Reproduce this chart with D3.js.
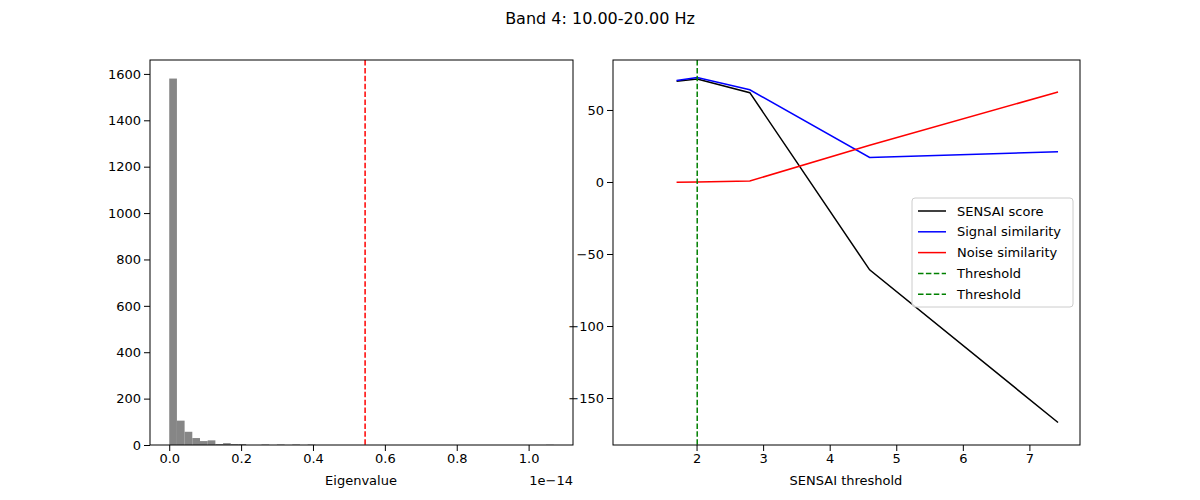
<!DOCTYPE html>
<html>
<head>
<meta charset="utf-8">
<script src="https://cdn.jsdelivr.net/npm/d3@7"></script>
<style>
  body { margin: 0; background: #fff; }
  text { font-family: "DejaVu Sans", sans-serif; }
</style>
</head>
<body>
<svg id="chart" width="1200" height="500"></svg>
<script>
// histogram: 50 bins over eigenvalue range (units of 1e-14)
const binStart = 0, binEnd = 1.07, nBins = 50;
const binCounts = [1580, 105, 57, 30, 17, 20, 4, 8, 4, 4, 0, 0, 2, 0, 2, 0, 2, 0, 2, 0,
  0, 0, 0, 0, 0, 0, 0, 0, 0, 0, 0, 0, 0, 0, 0, 0, 0, 0, 0, 0,
  0, 0, 0, 0, 0, 0, 0, 0, 0, 1];
const eigenThreshold = 0.545;
const histYTicks = [0, 200, 400, 600, 800, 1000, 1200, 1400, 1600];
const histXTicks = [0, 0.2, 0.4, 0.6, 0.8, 1.0];

// line plot
const thresholds = [1.70, 2.01, 2.80, 4.6, 7.43];
const sensaiScore = [70, 71.5, 62, -61, -167];
const signalSim = [70.5, 72.5, 64, 17, 21];
const noiseSim = [-0.2, 0, 0.7, 25.5, 62.5];
const chosenThreshold = 2.01;
const lineYTicks = [50, 0, -50, -100, -150];
const lineXTicks = [2, 3, 4, 5, 6, 7];

const svg = d3.select("#chart");

svg.append("text").attr("x", 600).attr("y", 24).attr("text-anchor", "middle")
  .style("font-size", "16px").text("Band 4: 10.00-20.00 Hz");

const plotTop = 60, plotBottom = 445;

// ---- left histogram
const x1 = d3.scaleLinear().domain([-0.0535, 1.1235]).range([150, 573]);
const y1 = d3.scaleLinear().domain([0, 1660]).range([plotBottom, plotTop]);
const bw = (binEnd - binStart) / nBins;

svg.append("g").selectAll("rect").data(binCounts).join("rect")
  .attr("x", (d, i) => x1(binStart + i * bw))
  .attr("width", x1(bw) - x1(0))
  .attr("y", d => y1(d))
  .attr("height", d => y1(0) - y1(d))
  .attr("fill", "#808080").attr("fill-opacity", 0.95);

svg.append("line").attr("x1", x1(eigenThreshold)).attr("x2", x1(eigenThreshold))
  .attr("y1", plotTop).attr("y2", plotBottom)
  .attr("stroke", "red").attr("stroke-width", 1.5).attr("stroke-dasharray", "5.5,2.4");

svg.append("g").attr("transform", `translate(0,${plotBottom})`)
  .call(d3.axisBottom(x1).tickValues(histXTicks).tickFormat(d3.format(".1f")).tickSizeOuter(0));
svg.append("g").attr("transform", "translate(150,0)")
  .call(d3.axisLeft(y1).tickValues(histYTicks).tickFormat(d3.format("d")).tickSizeOuter(0));
svg.append("rect").attr("x", 150).attr("y", plotTop).attr("width", 423).attr("height", plotBottom - plotTop)
  .attr("fill", "none").attr("stroke", "black");
svg.append("text").attr("x", 361).attr("y", 485).attr("text-anchor", "middle")
  .style("font-size", "13px").text("Eigenvalue");
svg.append("text").attr("x", 573).attr("y", 485).attr("text-anchor", "end")
  .style("font-size", "13px").text("1e\u221214");

// ---- right line plot
const x2 = d3.scaleLinear().domain([0.745, 7.76]).range([613, 1080]);
const y2 = d3.scaleLinear().domain([-182.6, 84.7]).range([plotBottom, plotTop]);
const line = d3.line().x((d, i) => x2(thresholds[i])).y(d => y2(d));

const series = [
  { name: "SENSAI score", vals: sensaiScore, color: "black" },
  { name: "Signal similarity", vals: signalSim, color: "blue" },
  { name: "Noise similarity", vals: noiseSim, color: "red" }
];
series.forEach(s => {
  svg.append("path").datum(s.vals).attr("d", line)
    .attr("fill", "none").attr("stroke", s.color).attr("stroke-width", 1.5);
});
svg.append("line").attr("x1", x2(chosenThreshold)).attr("x2", x2(chosenThreshold))
  .attr("y1", plotTop).attr("y2", plotBottom)
  .attr("stroke", "green").attr("stroke-width", 1.5).attr("stroke-dasharray", "5.5,2.4");

svg.append("g").attr("transform", `translate(0,${plotBottom})`)
  .call(d3.axisBottom(x2).tickValues(lineXTicks).tickFormat(d3.format("d")).tickSizeOuter(0));
svg.append("g").attr("transform", "translate(613,0)")
  .call(d3.axisLeft(y2).tickValues(lineYTicks).tickFormat(d => d < 0 ? "\u2212" + (-d) : d).tickSizeOuter(0));
svg.append("rect").attr("x", 613).attr("y", plotTop).attr("width", 467).attr("height", plotBottom - plotTop)
  .attr("fill", "none").attr("stroke", "black");
svg.append("text").attr("x", 846).attr("y", 485).attr("text-anchor", "middle")
  .style("font-size", "13px").text("SENSAI threshold");

svg.selectAll(".tick text").style("font-size", "13px").attr("fill", "black");
svg.selectAll(".domain").remove();

// legend
const legendItems = [
  { name: "SENSAI score", color: "black", dash: null },
  { name: "Signal similarity", color: "blue", dash: null },
  { name: "Noise similarity", color: "red", dash: null },
  { name: "Threshold", color: "green", dash: "5.5,2.4" },
  { name: "Threshold", color: "green", dash: "5.5,2.4" }
];
const lg = svg.append("g").attr("transform", "translate(912,198)");
lg.append("rect").attr("width", 161).attr("height", 109).attr("rx", 3)
  .attr("fill", "white").attr("fill-opacity", 0.8).attr("stroke", "#ccc");
legendItems.forEach((d, i) => {
  const yy = 13 + i * 20.8;
  lg.append("line").attr("x1", 6).attr("x2", 34).attr("y1", yy).attr("y2", yy)
    .attr("stroke", d.color).attr("stroke-width", 1.5).attr("stroke-dasharray", d.dash);
  lg.append("text").attr("x", 45).attr("y", yy + 4.5).style("font-size", "13px").text(d.name);
});
</script>
</body>
</html>
